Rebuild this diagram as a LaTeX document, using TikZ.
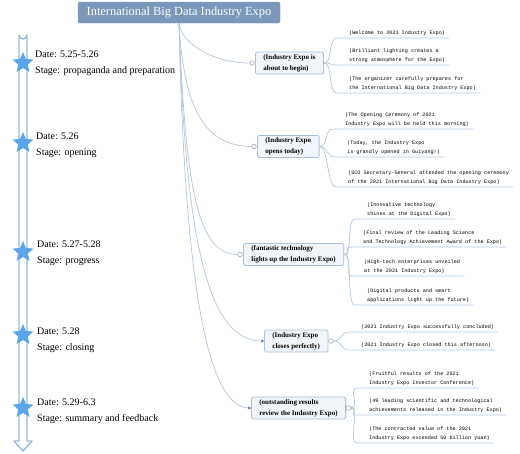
\documentclass[tikz,border=0pt]{standalone}
\usepackage{fontspec}
\setmainfont{Liberation Serif}
\newfontfamily\leaffont{Liberation Mono}
\usetikzlibrary{shapes.geometric,arrows.meta}
\definecolor{titlefill}{HTML}{7B97B9}
\definecolor{boxfill}{HTML}{F1F5FA}
\definecolor{boxline}{HTML}{A8C0DC}
\definecolor{curvecol}{HTML}{B2C7E0}
\definecolor{starblue}{HTML}{5AA6E8}
\definecolor{barline}{HTML}{9CBADC}
\begin{document}
\begin{tikzpicture}[x=1pt,y=-1pt,
  titlebox/.style={fill=titlefill, draw=titlefill, rounded corners=1.5, text=white,
    font=\fontsize{12.4}{14}\selectfont, minimum width=202, minimum height=21, inner sep=0},
  datetext/.style={anchor=base west, font=\fontsize{10}{12}\selectfont, inner sep=0},
  topicbox/.style={draw=boxline, fill=boxfill, rounded corners=1.5,
    font=\fontsize{7}{11}\selectfont\bfseries, align=left, inner xsep=8, inner ysep=2.3,
    anchor=west, line width=0.8},
  leaf/.style={font=\leaffont\fontsize{5.15}{9}\selectfont, align=left, anchor=south west,
    inner xsep=4, inner ysep=1.5, text depth=1.5},
  link/.style={draw=curvecol, line width=0.7},
  knob/.style={circle, draw=gray!65, fill=white, inner sep=0, minimum size=4.5, line width=0.6},
  starmark/.style={star, star points=5, star point ratio=2.2, fill=starblue, draw=none,
    inner sep=0, minimum size=22}
]
\useasboundingbox (0,0) rectangle (520,453);
\fill[white] (0,0) rectangle (520,453);

% timeline bar with hollow arrow
\draw[barline, line width=1.4, fill=white, line join=round]
  (19,441) -- (19,35) arc[start angle=180, end angle=0, radius=4] -- (27,441)
  -- (32,441) -- (23,451) -- (14,441) -- cycle;

\node[starmark] (st1) at (23,63) {};
\node[starmark] (st2) at (23,143) {};
\node[starmark] (st3) at (23,252) {};
\node[starmark] (st4) at (23,335) {};
\node[starmark] (st5) at (23,408) {};

\node[datetext] (d1) at (35,57.5) {Date: 5.25-5.26};
\node[datetext] (s1) at (35,73.5) {Stage: propaganda and preparation};
\node[datetext] (d2) at (36,139.5) {Date: 5.26};
\node[datetext] (s2) at (36,155.5) {Stage: opening};
\node[datetext] (d3) at (37,247.5) {Date: 5.27-5.28};
\node[datetext] (s3) at (37,263.5) {Stage: progress};
\node[datetext] (d4) at (37,334.5) {Date: 5.28};
\node[datetext] (s4) at (37,350.5) {Stage: closing};
\node[datetext] (d5) at (37,405.5) {Date: 5.29-6.3};
\node[datetext] (s5) at (37,421.5) {Stage: summary and feedback};

% title
\node[titlebox] (title) at (179,12.5) {International Big Data Industry Expo};

% topic boxes
\node[topicbox] (b1) at (255,63) {(Industry Expo is\\about to begin)};
\node[topicbox] (b2) at (257,146.5) {(Industry Expo\\opens today)};
\node[topicbox] (b3) at (243,254.5) {(fantastic technology\\lights up the Industry Expo)};
\node[topicbox] (b4) at (264,341) {(Industry Expo\\closes perfectly)};
\node[topicbox] (b5) at (251,408) {(outstanding results\\review the Industry Expo)};

\node[knob] (k1) at ([xshift=-3]b1.west) {};
\node[knob] (k2) at ([xshift=-3]b2.west) {};
\node[knob] (k3) at ([xshift=-3]b3.west) {};
\node[knob] (k4) at ([xshift=2.5]b4.east) {};
\node[knob] (k5) at ([xshift=2.5]b5.east) {};

% title connectors
\draw[link] (title.south) .. controls (182,45) and (215,63) .. (k1.west);
\draw[link] (title.south) .. controls (184,110) and (205,146) .. (k2.west);
\draw[link] (title.south) .. controls (186,200) and (200,254) .. (k3.west);
\draw[link, -{Stealth[length=3,width=3,fill=gray!70!blue,color=gray!70!blue]}] (title.south) .. controls (186,270) and (215,341) .. (b4.west);
\draw[link, -{Stealth[length=3,width=3,fill=gray!70!blue,color=gray!70!blue]}] (title.south) .. controls (185,300) and (210,408) .. (b5.west);

% leaves group 1
\node[leaf] (l11) at (345,38) {(Welcome to 2021 Industry Expo)};
\node[leaf] (l12) at (345,65) {(Brilliant lighting creates a\\strong atmosphere for the Expo)};
\node[leaf] (l13) at (345,93) {(The organizer carefully prepares for\\the International Big Data Industry Expo)};
% leaves group 2
\node[leaf] (l21) at (341,129) {(The Opening Ceremony of 2021\\Industry Expo will be held this morning)};
\node[leaf] (l22) at (343,157) {(Today, the Industry Expo\\is grandly opened in Guiyang!)};
\node[leaf] (l23) at (344,187) {(SCO Secretary-General attended the opening ceremony\\of the 2021 International Big Data Industry Expo)};
% leaves group 3
\node[leaf] (l31) at (363,219) {(Innovative technology\\shines at the Digital Expo)};
\node[leaf] (l32) at (359,247) {(Final review of the Leading Science\\and Technology Achievement Award of the Expo)};
\node[leaf] (l33) at (360,276) {(High-tech enterprises unveiled\\at the 2021 Industry Expo)};
\node[leaf] (l34) at (363,305) {(Digital products and smart\\applications light up the future)};
% leaves group 4
\node[leaf] (l41) at (357,332) {(2021 Industry Expo successfully concluded)};
\node[leaf] (l42) at (357,350) {(2021 Industry Expo closed this afternoon)};
% leaves group 5
\node[leaf] (l51) at (365,388) {(Fruitful results of the 2021\\Industry Expo Investor Conference)};
\node[leaf] (l52) at (365,415) {(49 leading scientific and technological\\achievements released in the Industry Expo)};
\node[leaf] (l53) at (365,443) {(The contracted value of the 2021\\Industry Expo exceeded 50 billion yuan)};

% leaf connectors
\foreach \b/\l in {b1/l11,b1/l12,b1/l13,b2/l21,b2/l22,b2/l23,b3/l31,b3/l32,b3/l33,b3/l34}{
  \draw[link] (\b.east) .. controls +(9,0) and +(-9,0) .. ([xshift=-8]\l.south west) -- (\l.south east);
}
\foreach \b/\l in {k4/l41,k4/l42,k5/l51,k5/l52,k5/l53}{
  \draw[link] (\b.east) .. controls +(9,0) and +(-9,0) .. ([xshift=-8]\l.south west) -- (\l.south east);
}
\end{tikzpicture}
\end{document}
